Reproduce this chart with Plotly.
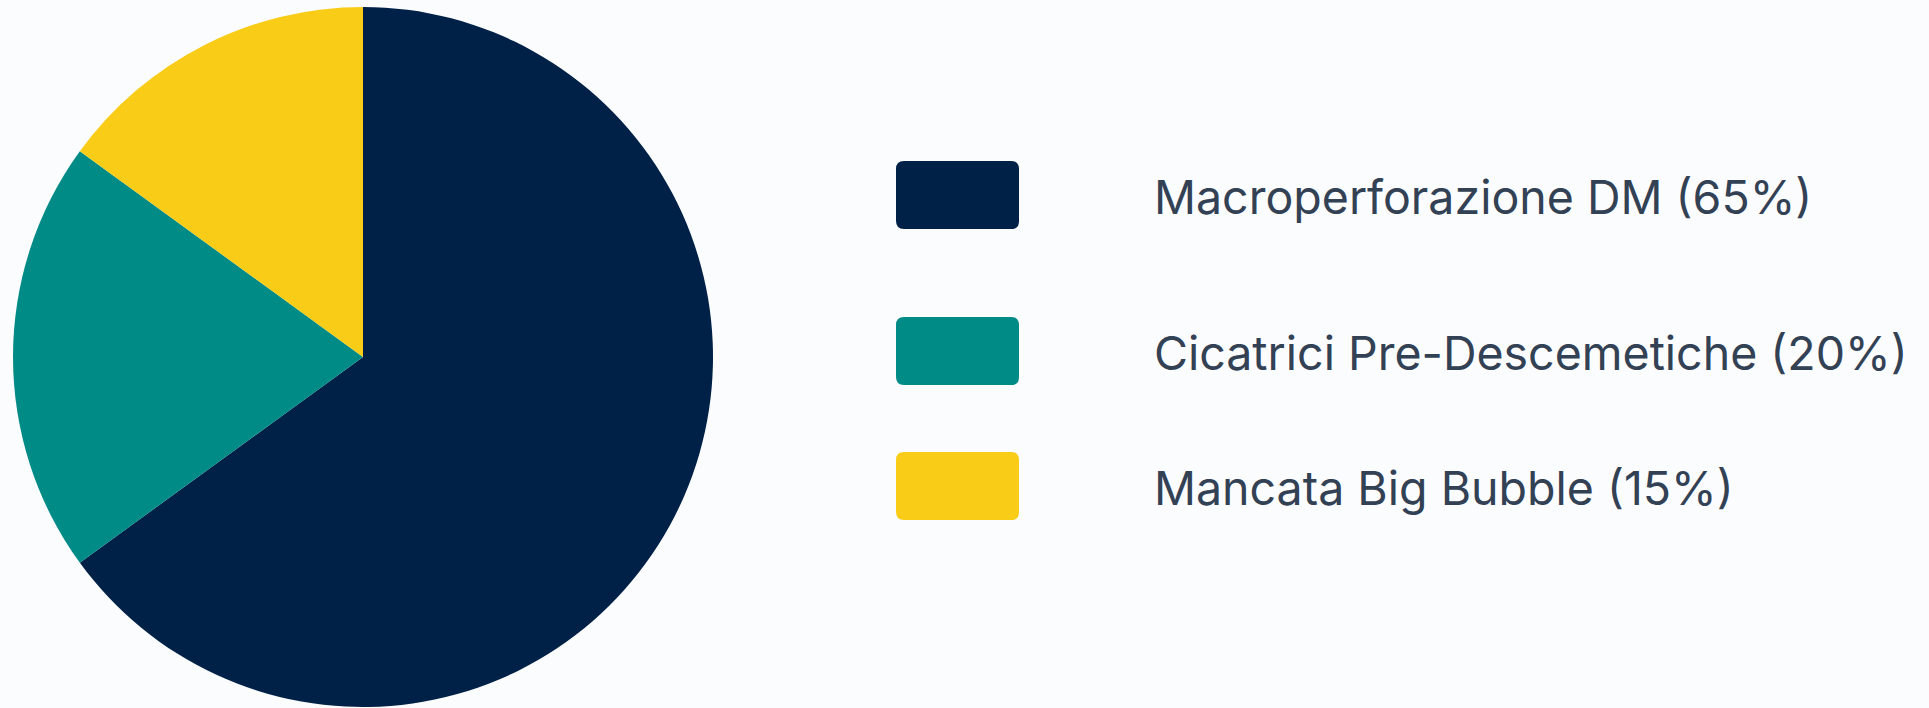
import plotly.graph_objects as go

labels = ["Macroperforazione DM", "Cicatrici Pre-Descemetiche", "Mancata Big Bubble"]
values = [65, 20, 15]
colors = ["#002147", "#008B87", "#F9CC18"]

W, H = 1929, 708

fig = go.Figure(go.Pie(
    labels=labels, values=values, sort=False, direction="clockwise", rotation=0,
    marker=dict(colors=colors, line=dict(width=0)), textinfo="none", hoverinfo="label+percent",
    domain=dict(x=[13 / W, 713 / W], y=[1 / H, 701 / H]), showlegend=False,
))

def rrect(x0, y0, x1, y1, r):
    # pixel coords (top-left origin) -> paper path
    def p(x, y):
        return f"{x / W:.6f},{1 - y / H:.6f}"
    return (f"M{p(x0 + r, y0)} L{p(x1 - r, y0)} Q{p(x1, y0)} {p(x1, y0 + r)} "
            f"L{p(x1, y1 - r)} Q{p(x1, y1)} {p(x1 - r, y1)} L{p(x0 + r, y1)} "
            f"Q{p(x0, y1)} {p(x0, y1 - r)} L{p(x0, y0 + r)} Q{p(x0, y0)} {p(x0 + r, y0)} Z")

centers = [195, 351, 486]
shapes, annots = [], []
for lab, val, col, cy in zip(labels, values, colors, centers):
    shapes.append(dict(type="path", xref="paper", yref="paper",
                       path=rrect(896, cy - 34, 1019, cy + 34, 8),
                       fillcolor=col, line=dict(width=0)))
    annots.append(dict(x=1152 / W, y=1 - (cy + 2) / H, xref="paper", yref="paper",
                       xanchor="left", yanchor="middle", showarrow=False,
                       text=f"{lab} ({val}%)",
                       font=dict(family="Inter", size=46.5, color="#334155")))

fig.update_layout(width=W, height=H, margin=dict(l=0, r=0, t=0, b=0),
                  paper_bgcolor="#fbfcfe", plot_bgcolor="#fbfcfe",
                  shapes=shapes, annotations=annots)
fig.write_html("out.html")
